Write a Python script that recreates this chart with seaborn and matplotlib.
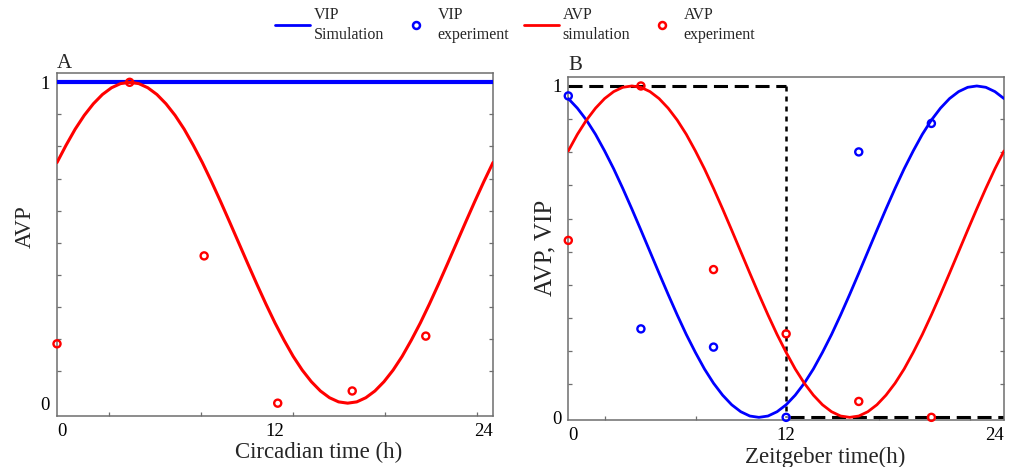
import matplotlib
matplotlib.use("Agg")
import matplotlib.pyplot as plt
from matplotlib.lines import Line2D
import seaborn as sns

# ---------------------------------------------------------------- data
# simulation grid (h)
sim_time = [0.0, 0.5, 1.0, 1.5, 2.0, 2.5, 3.0, 3.5, 4.0, 4.5, 5.0, 5.5,
            6.0, 6.5, 7.0, 7.5, 8.0, 8.5, 9.0, 9.5, 10.0, 10.5, 11.0, 11.5,
            12.0, 12.5, 13.0, 13.5, 14.0, 14.5, 15.0, 15.5, 16.0, 16.5, 17.0, 17.5,
            18.0, 18.5, 19.0, 19.5, 20.0, 20.5, 21.0, 21.5, 22.0, 22.5, 23.0, 23.5,
            24.0]

# panel A: constant VIP, oscillating AVP (circadian time)
vip_sim_a_time = [0.0, 24.0]
vip_sim_a = [1.0, 1.0]
avp_sim_a = [0.750, 0.804, 0.854, 0.897, 0.933, 0.962, 0.983, 0.996, 1.000, 0.996,
             0.983, 0.962, 0.933, 0.897, 0.854, 0.804, 0.750, 0.691, 0.629, 0.565,
             0.500, 0.435, 0.371, 0.309, 0.250, 0.196, 0.146, 0.103, 0.067, 0.038,
             0.017, 0.004, 0.000, 0.004, 0.017, 0.038, 0.067, 0.103, 0.146, 0.196,
             0.250, 0.309, 0.371, 0.435, 0.500, 0.565, 0.629, 0.691, 0.750]
avp_exp_a_time = [0.0, 4.0, 8.1, 12.15, 16.25, 20.3]
avp_exp_a = [0.185, 1.0, 0.459, 0.0, 0.038, 0.209]

# panel B: AVP and VIP under light/dark (zeitgeber time)
avp_sim_b = [0.804, 0.854, 0.897, 0.933, 0.962, 0.983, 0.996, 1.000, 0.996, 0.983,
             0.962, 0.933, 0.897, 0.854, 0.804, 0.750, 0.691, 0.629, 0.565, 0.500,
             0.435, 0.371, 0.309, 0.250, 0.196, 0.146, 0.103, 0.067, 0.038, 0.017,
             0.004, 0.000, 0.004, 0.017, 0.038, 0.067, 0.103, 0.146, 0.196, 0.250,
             0.309, 0.371, 0.435, 0.500, 0.565, 0.629, 0.691, 0.750, 0.804]
vip_sim_b = [0.962, 0.933, 0.897, 0.854, 0.804, 0.750, 0.691, 0.629, 0.565, 0.500,
             0.435, 0.371, 0.309, 0.250, 0.196, 0.146, 0.103, 0.067, 0.038, 0.017,
             0.004, 0.000, 0.004, 0.017, 0.038, 0.067, 0.103, 0.146, 0.196, 0.250,
             0.309, 0.371, 0.435, 0.500, 0.565, 0.629, 0.691, 0.750, 0.804, 0.854,
             0.897, 0.933, 0.962, 0.983, 0.996, 1.000, 0.996, 0.983, 0.962]
exp_b_time = [0.0, 4.0, 8.0, 12.0, 16.0, 20.0]
avp_exp_b = [0.534, 1.0, 0.446, 0.252, 0.048, 0.0]
vip_exp_b = [0.970, 0.267, 0.212, 0.0, 0.801, 0.887]

# light schedule: lights on 0-12, off 12-24
light_on_time = [0.0, 12.0]
light_on_level = [1.0, 1.0]
switch_time = [12.0, 12.0]
switch_level = [1.0, 0.0]
light_off_time = [12.2, 24.0]
light_off_level = [0.0, 0.0]

legend_labels = ["VIP\nSimulation", "VIP\nexperiment", "AVP\nsimulation", "AVP\nexperiment"]

# ---------------------------------------------------------------- style
sns.set_theme(style="white")
plt.rcParams["font.family"] = ["Liberation Serif", "DejaVu Serif"]

RED = "#ff0000"
BLUE = "#0000ff"
FRAME = "#6e6e6e"

fig = plt.figure(figsize=(10.19, 4.67), dpi=100)
W, H = 1019.0, 467.0
ax_a = fig.add_axes([57 / W, 1 - 416 / H, (493 - 57) / W, (416 - 73) / H])
ax_b = fig.add_axes([568.3 / W, 1 - 420 / H, (1004 - 568.3) / W, (420 - 76.7) / H])


def open_points(ax, x, y, color):
    sns.scatterplot(x=x, y=y, ax=ax, marker="o", s=26, linewidth=1.7,
                    color=color, zorder=6, legend=False)
    pts = ax.collections[-1]
    pts.set_facecolor("none")
    pts.set_edgecolor(color)
    pts.set_clip_on(False)


def frame(ax, xminor, ylim):
    ax.set_xlim(0, 24)
    ax.set_ylim(*ylim)
    for s in ax.spines.values():
        s.set_color(FRAME)
        s.set_linewidth(1.1)
        s.set_visible(True)
    ax.set_xticks([0, 12, 24])
    ax.set_xticklabels(["0", "12", "24"], fontsize=13.5)
    lbls = ax.get_xticklabels()
    lbls[0].set_horizontalalignment("left")
    lbls[2].set_horizontalalignment("right")
    ax.set_xticks(xminor, minor=True)
    ax.set_yticks([0, 1])
    ax.set_yticklabels(["0", "1"], fontsize=13.5)
    ax.set_yticks([0.1, 0.2, 0.3, 0.4, 0.5, 0.6, 0.7, 0.8, 0.9], minor=True)
    ax.tick_params(which="major", length=0, colors="black")
    ax.tick_params(axis="x", which="major", pad=5)
    ax.tick_params(axis="y", which="major", pad=5)
    ax.tick_params(which="minor", direction="in", length=2.6, width=0.9,
                   color=FRAME, left=True, right=True, bottom=True, top=False)
    ax.set_xlabel("")
    ax.set_ylabel("")
    ax.grid(False)


# ---------------------------------------------------------------- panel A
sns.lineplot(x=vip_sim_a_time, y=vip_sim_a, ax=ax_a, color=BLUE, linewidth=3.0,
             estimator=None, sort=False, zorder=3)
sns.lineplot(x=sim_time, y=avp_sim_a, ax=ax_a, color=RED, linewidth=2.2,
             estimator=None, sort=False, zorder=4)
open_points(ax_a, avp_exp_a_time, avp_exp_a, RED)
frame(ax_a, [2.85, 7.92, 13.0, 18.05, 23.1], (-0.04, 1.029))

ax_a.text(0.0, 1.015, "A", transform=ax_a.transAxes, fontsize=15,
          ha="left", va="baseline")
ax_a.text(-0.072, 0.551, "AVP", transform=ax_a.transAxes, fontsize=16.5,
          rotation=90, ha="center", va="center")
ax_a.text(0.601, -0.122, "Circadian time (h)", transform=ax_a.transAxes,
          fontsize=16.5, ha="center", va="baseline")

# ---------------------------------------------------------------- panel B
sns.lineplot(x=light_on_time, y=light_on_level, ax=ax_b, color="black",
             linewidth=2.2, linestyle=(0, (4.6, 2.2)), estimator=None, sort=False, zorder=2)
sns.lineplot(x=switch_time, y=switch_level, ax=ax_b, color="black",
             linewidth=1.8, linestyle=(0, (2.0, 2.0)), estimator=None, sort=False, zorder=2)
sns.lineplot(x=light_off_time, y=light_off_level, ax=ax_b, color="black",
             linewidth=2.2, linestyle=(0, (4.6, 2.2)), estimator=None, sort=False, zorder=2)
sns.lineplot(x=sim_time, y=vip_sim_b, ax=ax_b, color=BLUE, linewidth=2.0,
             estimator=None, sort=False, zorder=4)
sns.lineplot(x=sim_time, y=avp_sim_b, ax=ax_b, color=RED, linewidth=2.0,
             estimator=None, sort=False, zorder=4)
open_points(ax_b, exp_b_time, vip_exp_b, BLUE)
open_points(ax_b, exp_b_time, avp_exp_b, RED)
frame(ax_b, [2.0, 7.05, 12.1, 17.1, 22.1], (-0.008, 1.028))

ax_b.text(0.0, 1.0196, "B", transform=ax_b.transAxes, fontsize=15,
          ha="left", va="baseline")
ax_b.text(-0.0516, 0.50, "AVP, VIP", transform=ax_b.transAxes, fontsize=18,
          rotation=90, ha="center", va="center")
ax_b.text(0.589, -0.125, "Zeitgeber time(h)", transform=ax_b.transAxes,
          fontsize=16.5, ha="center", va="baseline")

# ---------------------------------------------------------------- legend
handles = [
    Line2D([], [], color=BLUE, linewidth=2.0),
    Line2D([], [], color=BLUE, linestyle="none", marker="o", markersize=5,
           markerfacecolor="none", markeredgewidth=1.8),
    Line2D([], [], color=RED, linewidth=2.0),
    Line2D([], [], color=RED, linestyle="none", marker="o", markersize=5,
           markerfacecolor="none", markeredgewidth=1.8),
]
leg = fig.legend(handles, legend_labels, loc="center", bbox_to_anchor=(515 / W, 1 - 25 / H),
                 ncol=4, frameon=False, fontsize=11.5, handlelength=2.2,
                 handletextpad=0.25, columnspacing=0.9, borderpad=0.0)
for t in leg.get_texts():
    t.set_linespacing(1.35)

fig.savefig("out.png", dpi=100)
